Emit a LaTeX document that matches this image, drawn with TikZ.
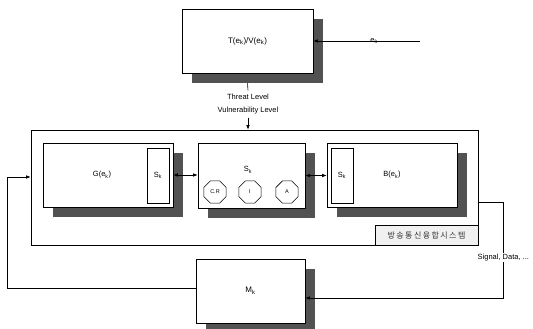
\documentclass[tikz,border=0pt]{standalone}
\usepackage{fontspec}
\setsansfont{Liberation Sans}
\newfontfamily\krfont[LetterSpace=18]{Noto Sans CJK KR}
\usetikzlibrary{shapes.geometric, arrows.meta, shadows}
\tikzset{
  blockbox/.style={
    draw, fill=white, line width=0.6pt,
    font=\sffamily\fontsize{8}{9.5}\selectfont,
    drop shadow={shadow xshift=10pt, shadow yshift=-10pt,
      fill=black!68, opacity=1}
  },
  innerbox/.style={
    draw, fill=white, line width=0.6pt,
    minimum width=22pt, minimum height=55pt,
    font=\sffamily\fontsize{7.5}{9}\selectfont
  },
  octbox/.style={
    regular polygon, regular polygon sides=8, draw, fill=white,
    line width=0.6pt, minimum size=24pt, inner sep=0pt,
    font=\sffamily\fontsize{5.5}{6.5}\selectfont
  },
  sysline/.style={line width=0.6pt},
  sysarrow/.style={-{Latex[length=4.5pt,width=3.5pt]}, line width=0.6pt},
  sysboth/.style={{Latex[length=4.5pt,width=3.5pt]}-{Latex[length=4.5pt,width=3.5pt]},
    line width=0.6pt},
  sysnote/.style={font=\sffamily\fontsize{7.5}{9}\selectfont}
}

\begin{document}
\begin{tikzpicture}[x=1pt, y=-1pt]
  \useasboundingbox (0,0) rectangle (533,329);

  % Convergence system frame
  \node[draw, sysline, minimum width=447pt, minimum height=115pt] (sys) at (254.5,187.5) {};
  \node[draw, sysline, fill=black!6, anchor=south east, minimum width=103pt,
    minimum height=20pt, font=\krfont\fontsize{8}{9}\selectfont, text=black!80] (syslbl)
    at (sys.south east) {방송통신융합시스템};

  % Threat / vulnerability evaluation
  \node[blockbox, minimum width=131pt, minimum height=64pt] (tv) at (247.5,41)
    {T(e\textsubscript{k})/V(e\textsubscript{k})};
  \coordinate (ein) at (420,41);

  % Levels
  \node[sysnote, align=center] (lvl) at (248,104) {Threat Level\\[4pt]Vulnerability Level};

  % Generator block
  \node[blockbox, minimum width=130pt, minimum height=64pt] (gen) at (108,175) {};
  \node[sysnote] (gentxt) at (102,175) {G(e\textsubscript{k})};
  \node[innerbox] (gensk) at (158,175.5) {S\textsubscript{k}};

  % State block
  \node[blockbox, minimum width=107pt, minimum height=65pt] (st) at (251.5,175.5) {};
  \node[sysnote] (sttxt) at (248,170) {S\textsubscript{k}};
  \node[octbox] (cr) at (215,192) {C.R};
  \node[octbox] (oi) at (250,192) {I};
  \node[octbox] (oa) at (287,192) {A};

  % Behaviour block
  \node[blockbox, minimum width=130pt, minimum height=64pt] (beh) at (392,175) {};
  \node[sysnote] (behtxt) at (392,175) {B(e\textsubscript{k})};
  \node[innerbox] (behsk) at (342,175.5) {S\textsubscript{k}};

  % Monitor
  \node[blockbox, minimum width=109pt, minimum height=64pt] (mon) at (250.5,291)
    {M\textsubscript{k}};
  \coordinate (fbl) at (7.5,288);

  % Arrows
  \draw[sysarrow] (ein) -- node[pos=0.43, sysnote] {e\textsubscript{k}} (tv.east);
  \draw[sysline] ([yshift=-10pt]tv.south) -- (lvl.north);
  \draw[sysarrow] (lvl.south) -- (lvl.south |- sys.north);
  \draw[sysboth] (gen.east) -- (gen.east -| st.west);
  \draw[sysboth] (st.east) -- (st.east -| beh.west);

  % Feedback loop
  \draw[sysarrow] ([yshift=-14.5pt]sys.east) -- ++(25,0)
    |- node[pos=0.29, sysnote, fill=white, inner sep=1pt] {Signal, Data, ...}
    ([yshift=-7pt]mon.east);
  \draw[sysarrow] ([yshift=3pt]mon.west) -- (fbl) |- ([yshift=10.5pt]sys.west);
\end{tikzpicture}
\end{document}
